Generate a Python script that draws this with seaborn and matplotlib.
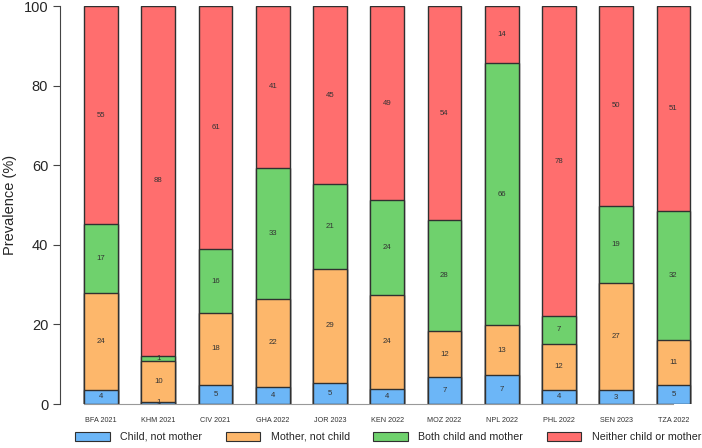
import numpy as np
import pandas as pd
import seaborn as sns
import matplotlib.pyplot as plt
from matplotlib.patches import Patch

# survey labels
surveys = ["BFA 2021", "KHM 2021", "CIV 2021", "GHA 2022", "JOR 2023", "KEN 2022",
           "MOZ 2022", "NPL 2022", "PHL 2022", "SEN 2023", "TZA 2022"]

# prevalence (%) per group
child_only = [3.6, 0.6, 4.9, 4.3, 5.3, 3.8, 6.7, 7.2, 3.6, 3.4, 4.8]
mother_only = [24.3, 10.2, 18.0, 22.1, 28.7, 23.6, 11.6, 12.6, 11.6, 27.1, 11.4]
both = [17.3, 1.3, 16.0, 33.0, 21.2, 23.8, 27.9, 65.9, 6.8, 19.3, 32.4]
neither = [54.8, 87.9, 61.1, 40.6, 44.8, 48.8, 53.8, 14.3, 78.0, 50.2, 51.4]

groups = ["Child, not mother", "Mother, not child", "Both child and mother", "Neither child or mother"]
colors = ["#6cb6f7", "#fdb76b", "#6fd16d", "#ff6e6e"]

df = pd.DataFrame({"survey": surveys, groups[0]: child_only, groups[1]: mother_only,
                   groups[2]: both, groups[3]: neither})
vals = df[groups].to_numpy()
cum = vals.cumsum(axis=1)

sns.set_style("white")
plt.rcParams["font.family"] = ["Liberation Sans", "DejaVu Sans"]

fig = plt.figure(figsize=(7.02, 4.48), dpi=100)
ax = fig.add_axes([0.0855, 0.0982, 0.908, 0.8884])

# draw tallest stack first, then overlay the lower ones
for k in range(3, -1, -1):
    sns.barplot(x=df["survey"], y=cum[:, k], color=colors[k], width=0.59,
                edgecolor="#303030", linewidth=1.0, saturation=1, errorbar=None, ax=ax)

# segment labels
for i in range(len(surveys)):
    base = 0
    for k in range(4):
        v = vals[i, k]
        ax.text(i, base + v / 2, f"{round(v):d}", ha="center", va="center",
                fontsize=5.6, color="#333333")
        base += v

ax.set_xlim(-0.717, 10.42)
ax.set_ylim(0, 100)
ax.set_yticks([0, 20, 40, 60, 80, 100])
ax.tick_params(axis="y", labelsize=10.5, length=5, width=0.8, color="#444444", left=True)
ax.tick_params(axis="x", labelsize=5.2, length=0, pad=9, labelcolor="#333333")
ax.set_xlabel("")
ax.set_ylabel("Prevalence (%)", fontsize=10.5, labelpad=5)

for s in ["top", "right"]:
    ax.spines[s].set_visible(False)
ax.spines["left"].set_color("#444444")
ax.spines["left"].set_linewidth(0.8)
ax.spines["bottom"].set_color("#999999")
ax.spines["bottom"].set_bounds(-0.3, 10)

handles = [Patch(facecolor=c, edgecolor="#303030", linewidth=0.8, label=g)
           for c, g in zip(colors, groups)]
fig.legend(handles=handles, loc="center", bbox_to_anchor=(0.553, 0.025), ncol=4,
           frameon=False, fontsize=7.7, handlelength=3.2, handleheight=0.93,
           handletextpad=1.0, columnspacing=2.2, borderaxespad=0, borderpad=0)

fig.savefig("out.png", dpi=100)
